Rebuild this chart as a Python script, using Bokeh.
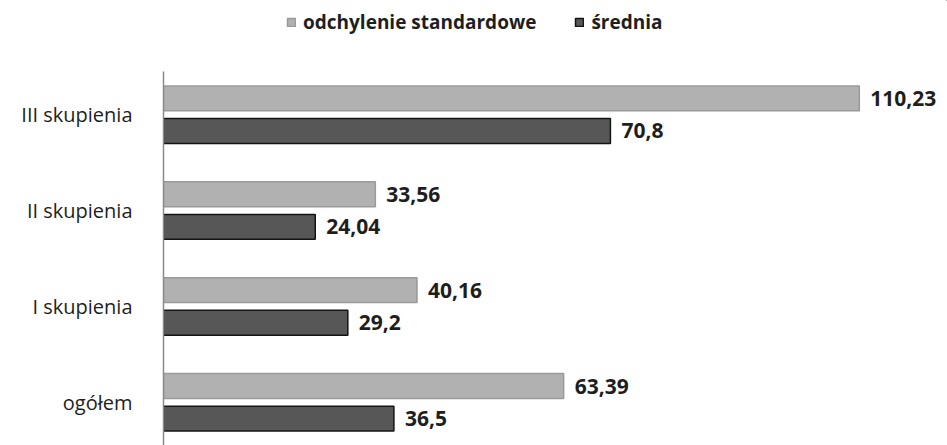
from bokeh.plotting import figure
from bokeh.models import ColumnDataSource, FactorRange, Range1d, Legend, LegendItem
from bokeh.layouts import column
from bokeh.transform import dodge
from bokeh.core.properties import value
from bokeh.embed import file_html
from bokeh.resources import INLINE

categories = ["ogółem", "I skupienia", "II skupienia", "III skupienia"]
odchylenie = [63.39, 40.16, 33.56, 110.23]
srednia = [36.5, 29.2, 24.04, 70.8]
odchylenie_labels = ["63,39", "40,16", "33,56", "110,23"]
srednia_labels = ["36,5", "29,2", "24,04", "70,8"]
series_names = ["odchylenie standardowe", "średnia"]

src = ColumnDataSource(dict(cat=categories, odch=odchylenie, sred=srednia,
                            odch_lab=odchylenie_labels, sred_lab=srednia_labels))

FONT = "Open Sans"
LIGHT = dict(fill_color="#b1b1b1", line_color="#9a9a9a", line_width=1.5)
DARK = dict(fill_color="#575757", line_color="#141414", line_width=1.5)

# main chart
p = figure(width=947, height=374, output_backend="svg", toolbar_location=None,
           y_range=FactorRange(factors=categories, range_padding=-0.05,
                               range_padding_units="absolute"),
           x_range=Range1d(0, 124.2),
           min_border_left=163, min_border_right=0, min_border_bottom=0,
           min_border_top=0)

p.hbar(y=dodge("cat", 0.17, range=p.y_range), right="odch", left=0, height=0.26,
       source=src, **LIGHT)
p.hbar(y=dodge("cat", -0.17, range=p.y_range), right="sred", left=0, height=0.26,
       source=src, **DARK)

for col, lab, off in (("odch", "odch_lab", 0.17), ("sred", "sred_lab", -0.17)):
    p.text(x=col, y=dodge("cat", off, range=p.y_range), text=lab, source=src,
           x_offset=11, text_baseline="middle", text_align="left",
           text_font=value(FONT), text_font_style="bold", text_font_size="21px",
           text_color="#1e1e1e")

p.xaxis.visible = False
p.xgrid.visible = False
p.ygrid.visible = False
p.outline_line_color = None

ax = p.yaxis[0]
ax.axis_line_color = "#8a8a8a"
ax.axis_line_width = 1.5
ax.major_tick_line_color = None
ax.minor_tick_line_color = None
ax.major_label_standoff = 25
ax.major_label_text_font = FONT
ax.major_label_text_font_size = "20px"
ax.major_label_text_color = "#1e1e1e"

# legend strip above the chart (its frame is aligned with the chart's frame);
# its bars are pushed far outside the strip's visible ranges, only the legend shows
lf = figure(width=947, height=71, output_backend="svg", toolbar_location=None,
            x_range=Range1d(-2000, -1999), y_range=FactorRange(factors=categories),
            x_axis_location=None, y_axis_location=None,
            min_border_left=163, min_border_right=0, min_border_top=0,
            min_border_bottom=0)
lf.xgrid.visible = False
lf.ygrid.visible = False
lf.outline_line_color = None
l1 = lf.hbar(y=dodge("cat", 60, range=lf.y_range), right="odch", left=0, height=0.26,
             source=src, **LIGHT)
l2 = lf.hbar(y=dodge("cat", 60, range=lf.y_range), right="sred", left=0, height=0.26,
             source=src, **DARK)

legend = Legend(items=[LegendItem(label=series_names[0], renderers=[l1]),
                       LegendItem(label=series_names[1], renderers=[l2])],
                orientation="horizontal", location=(123, 36),
                glyph_width=10, glyph_height=10, label_standoff=7, spacing=38,
                label_text_font=FONT, label_text_font_size="19px",
                label_text_font_style="bold", label_text_color="#1e1e1e",
                border_line_color=None, background_fill_alpha=0,
                padding=0, margin=0)
lf.add_layout(legend)

layout = column(lf, p, spacing=0)
open("out.html", "w").write(file_html(layout, INLINE))
